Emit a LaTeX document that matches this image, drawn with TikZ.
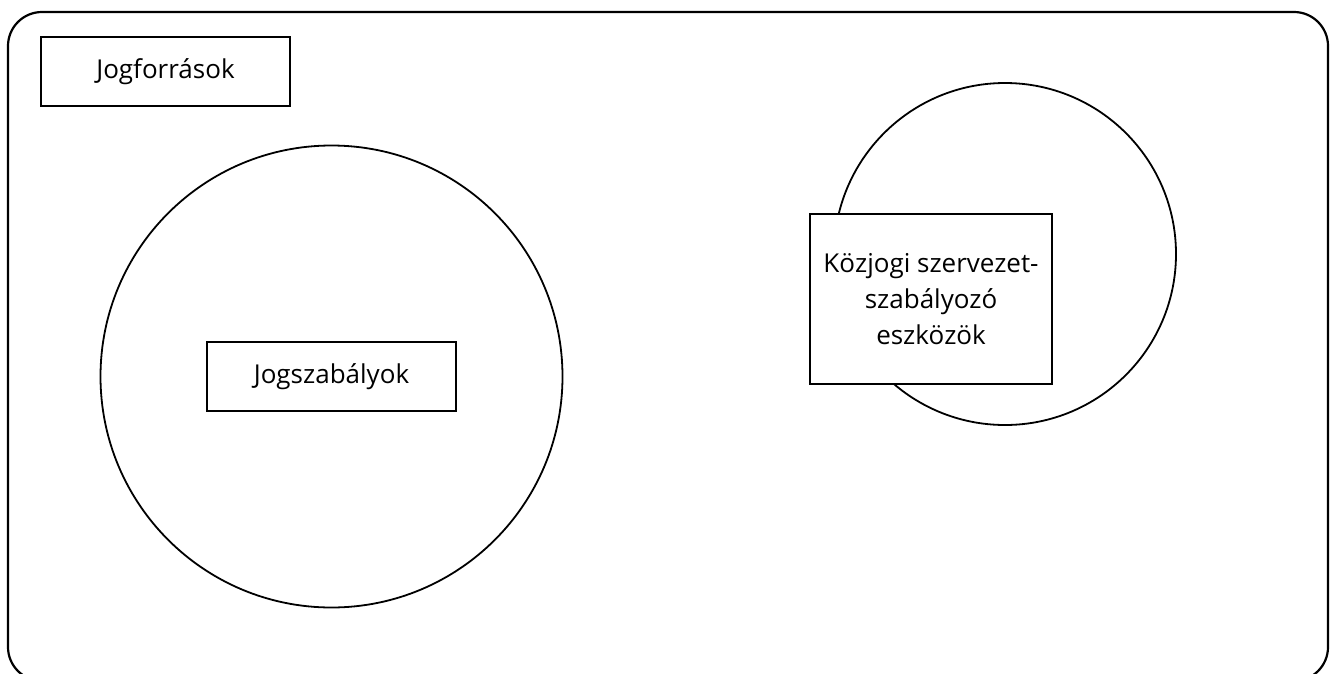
\documentclass[tikz,border=0pt]{standalone}
\usepackage{fontspec}
\setmainfont{Open Sans}
\begin{document}
\begin{tikzpicture}[x=1pt,y=-1pt,
  lbl/.style={draw=black,line width=1.2pt,rectangle,inner sep=0pt,align=center,font=\fontsize{26}{36}\selectfont},
  ring/.style={draw=black,line width=1.8pt,circle,inner sep=0pt}]
\useasboundingbox (0,0) rectangle (1336,673);
\clip (0,0) rectangle (1336,673);
\draw[line width=2.2pt,rounded corners=34pt] (8,12) rectangle (1328,681);
\node[ring,minimum size=462pt] (c1) at (331.5,376.5) {};
\node[ring,minimum size=342pt] (c2) at (1005,254) {};
\node[lbl,fill=white,minimum width=249pt,minimum height=69pt] (src) at (165.5,71.5) {Jogforrások};
\node[lbl,fill=white,minimum width=249pt,minimum height=69pt] (jsz) at (331.5,376.5) {Jogszabályok};
\node[lbl,fill=white,minimum width=242pt,minimum height=170pt] (kozj) at (931,299) {Közjogi szervezet-\\szabályozó\\eszközök};
\end{tikzpicture}
\end{document}
